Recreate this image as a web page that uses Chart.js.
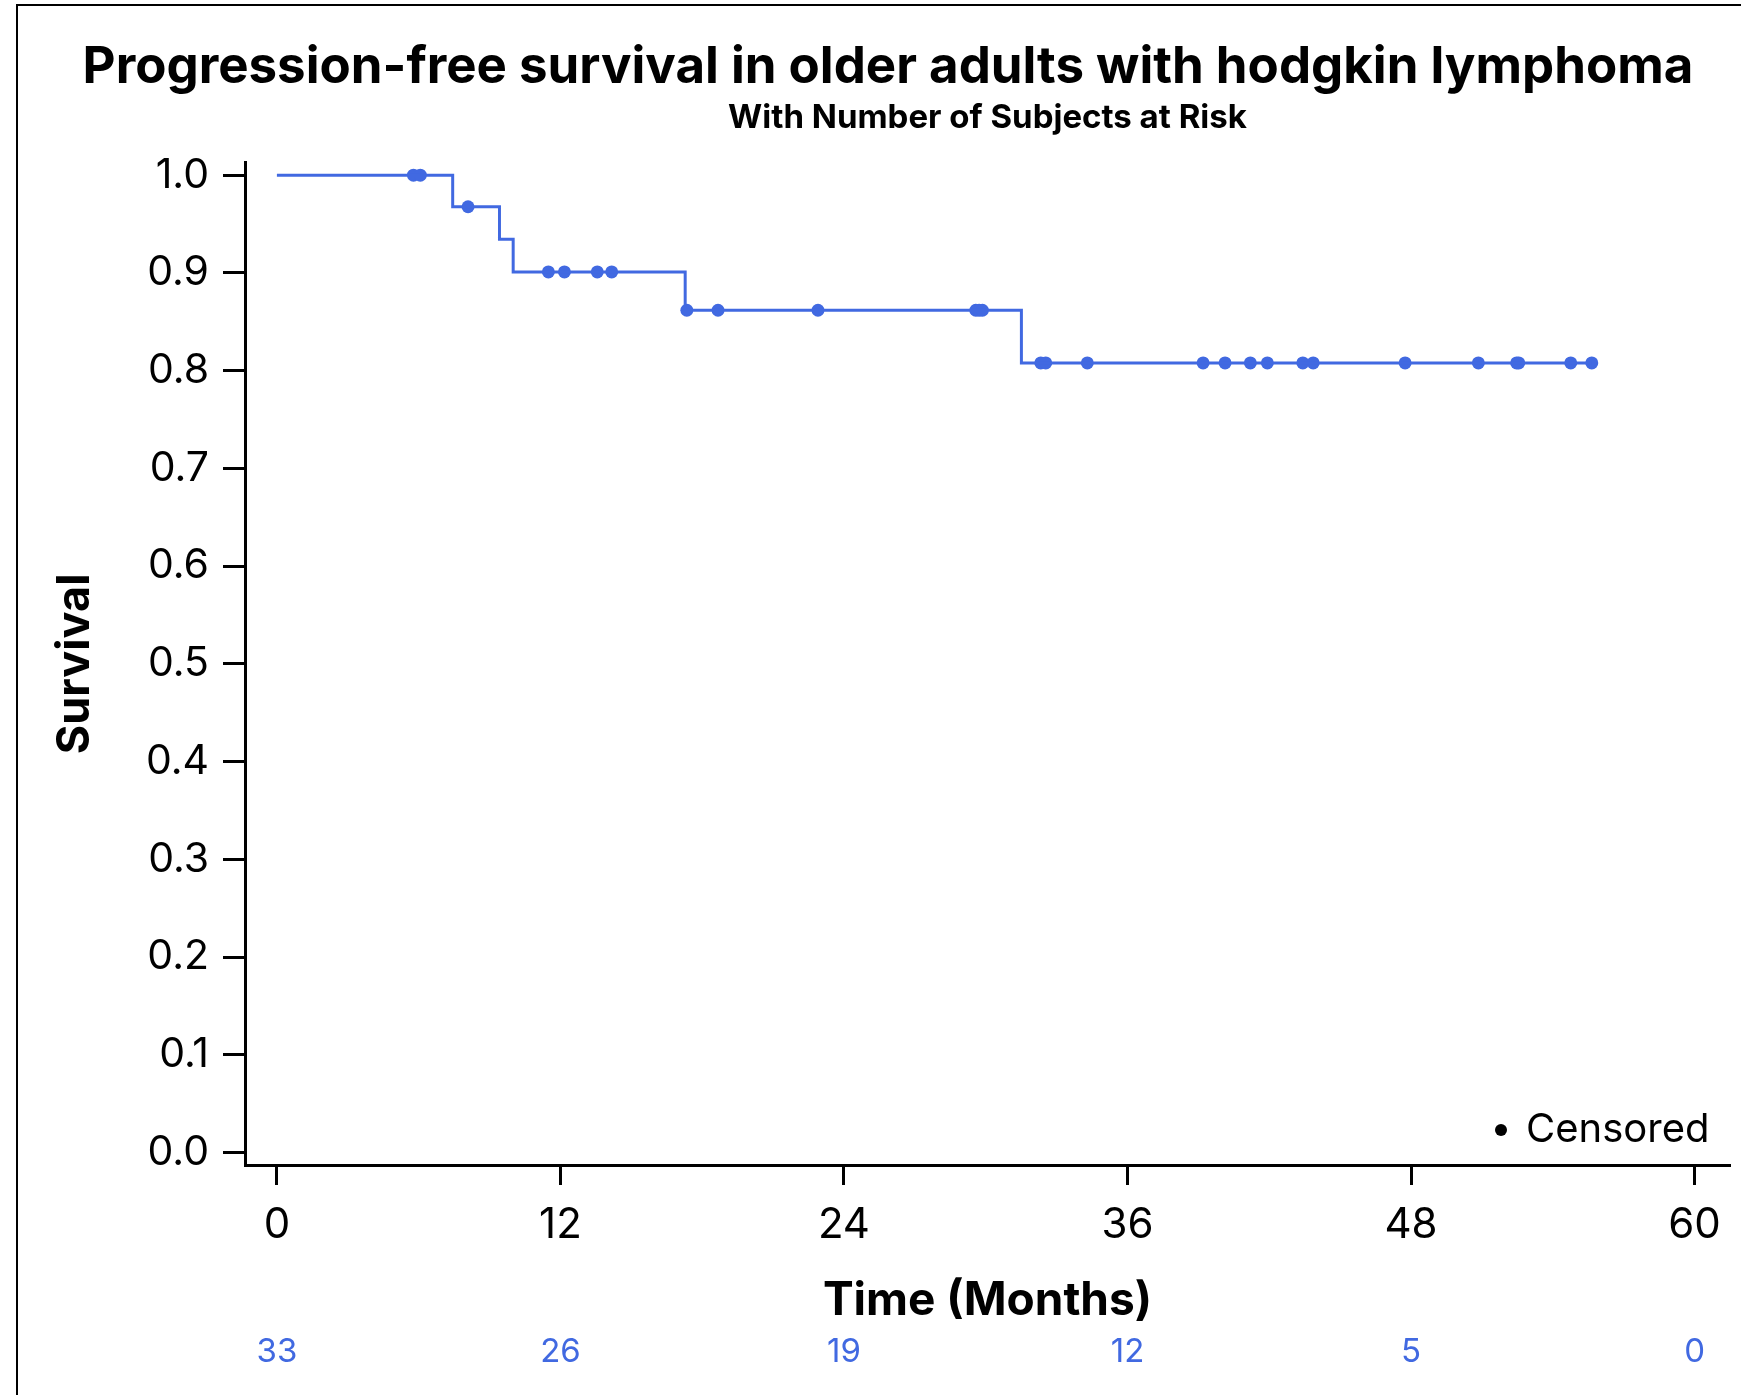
<!DOCTYPE html>
<html>
<head>
<meta charset="utf-8">
<script src="https://cdn.jsdelivr.net/npm/chart.js@4/dist/chart.umd.min.js"></script>
<style>
  html, body { margin: 0; padding: 0; background: #fff; }
  #wrap { width: 1741px; height: 1395px; }
</style>
</head>
<body>
<div id="wrap"><canvas id="kmChart" width="1741" height="1395"></canvas></div>
<script>
// KM curve: step times (months) and survival after each step
const stepTimes = [0, 7.44, 9.42, 10.0, 17.28, 31.51, 55.65];
const stepSurv  = [1.0, 0.9677, 0.9344, 0.9010, 0.8618, 0.8079, 0.8079];

// censored subjects
const censorTimes = [5.78, 6.07, 8.09, 11.49, 12.17, 13.56, 14.17, 17.35, 18.67, 22.9,
                     29.58, 29.72, 29.86, 32.33, 32.54, 34.3, 39.2, 40.13, 41.2, 41.92,
                     43.42, 43.86, 47.75, 50.85, 52.47, 52.56, 54.76, 55.65];
const censorSurv  = [1.0, 1.0, 0.9677, 0.9010, 0.9010, 0.9010, 0.9010, 0.8618, 0.8618, 0.8618,
                     0.8618, 0.8618, 0.8618, 0.8079, 0.8079, 0.8079, 0.8079, 0.8079, 0.8079, 0.8079,
                     0.8079, 0.8079, 0.8079, 0.8079, 0.8079, 0.8079, 0.8079, 0.8079];

// number at risk
const riskTimes  = [0, 12, 24, 36, 48, 60];
const riskCounts = [33, 26, 19, 12, 5, 0];

const xTicks = [0, 12, 24, 36, 48, 60];
const yTicks = [0, 0.1, 0.2, 0.3, 0.4, 0.5, 0.6, 0.7, 0.8, 0.9, 1.0];

const FONT = 'Inter';
const BLUE = '#4169E1';

// frame, risk table and censored legend
const extrasPlugin = {
    id: 'extras',
    beforeDraw(chart) {
        const ctx = chart.ctx;
        ctx.save();
        ctx.strokeStyle = '#000';
        ctx.lineWidth = 2;
        ctx.beginPath();
        ctx.moveTo(17, 1395);
        ctx.lineTo(17, 5);
        ctx.lineTo(1741, 5);
        ctx.stroke();
        ctx.restore();
    },
    afterDraw(chart) {
        const ctx = chart.ctx;
        const xs = chart.scales.x;
        ctx.save();
        ctx.fillStyle = BLUE;
        ctx.font = '33px ' + FONT;
        ctx.textAlign = 'center';
        ctx.textBaseline = 'middle';
        riskTimes.forEach((t, i) => {
            ctx.fillText(String(riskCounts[i]), xs.getPixelForValue(t), 1352);
        });
        // legend
        ctx.fillStyle = '#000';
        ctx.beginPath();
        ctx.arc(1501, 1130, 6, 0, Math.PI * 2);
        ctx.fill();
        ctx.font = '40px ' + FONT;
        ctx.textAlign = 'left';
        ctx.fillText('Censored', 1526, 1130);
        ctx.restore();
    }
};

const ctx = document.getElementById('kmChart').getContext('2d');
new Chart(ctx, {
    type: 'scatter',
    data: {
        datasets: [
            {
                label: 'PFS',
                data: stepTimes.map((t, i) => ({ x: t, y: stepSurv[i] })),
                showLine: true,
                stepped: 'before',
                borderColor: BLUE,
                borderWidth: 3,
                pointRadius: 0,
                fill: false
            },
            {
                label: 'Censored',
                data: censorTimes.map((t, i) => ({ x: t, y: censorSurv[i] })),
                showLine: false,
                pointRadius: 6.5,
                pointBackgroundColor: BLUE,
                pointBorderWidth: 0
            }
        ]
    },
    options: {
        responsive: false,
        animation: false,
        layout: { padding: { top: 37, left: 46, right: 11, bottom: 0 } },
        plugins: {
            legend: { display: false },
            tooltip: { enabled: false },
            title: {
                display: true,
                text: 'Progression-free survival in older adults with hodgkin lymphoma',
                color: '#000',
                font: { family: FONT, size: 51, weight: 'bold' },
                padding: { top: 0, bottom: 0 },
                fullSize: true
            },
            subtitle: {
                display: true,
                text: 'With Number of Subjects at Risk',
                color: '#000',
                font: { family: FONT, size: 33, weight: 'bold' },
                padding: { top: 0, bottom: 25 },
                fullSize: false
            }
        },
        scales: {
            x: {
                type: 'linear',
                min: -1.35,
                max: 61.5,
                afterBuildTicks: s => { s.ticks = xTicks.map(v => ({ value: v })); },
                afterFit: s => { s.height = 230; },
                ticks: {
                    callback: v => String(v),
                    color: '#000',
                    font: { family: FONT, size: 42 },
                    padding: 15,
                    maxRotation: 0,
                    autoSkip: false
                },
                grid: { drawOnChartArea: false, drawTicks: true, tickLength: 20, tickWidth: 3, tickColor: '#000' },
                border: { display: true, width: 3, color: '#000' },
                title: {
                    display: true,
                    text: 'Time (Months)',
                    color: '#000',
                    font: { family: FONT, size: 46, weight: 'bold' },
                    padding: { top: 0, bottom: 66 }
                }
            },
            y: {
                type: 'linear',
                min: -0.0128,
                max: 1.0127,
                afterBuildTicks: s => { s.ticks = yTicks.map(v => ({ value: v })); },
                afterFit: s => { s.width = 199; },
                ticks: {
                    callback: v => v.toFixed(1),
                    color: '#000',
                    font: { family: FONT, size: 41 },
                    padding: 14
                },
                grid: { drawOnChartArea: false, drawTicks: true, tickLength: 22, tickWidth: 3, tickColor: '#000' },
                border: { display: true, width: 3, color: '#000' },
                title: {
                    display: true,
                    text: 'Survival',
                    color: '#000',
                    font: { family: FONT, size: 45, weight: 'bold' },
                    padding: { top: 2, bottom: 0 }
                }
            }
        }
    },
    plugins: [extrasPlugin]
});
</script>
</body>
</html>
